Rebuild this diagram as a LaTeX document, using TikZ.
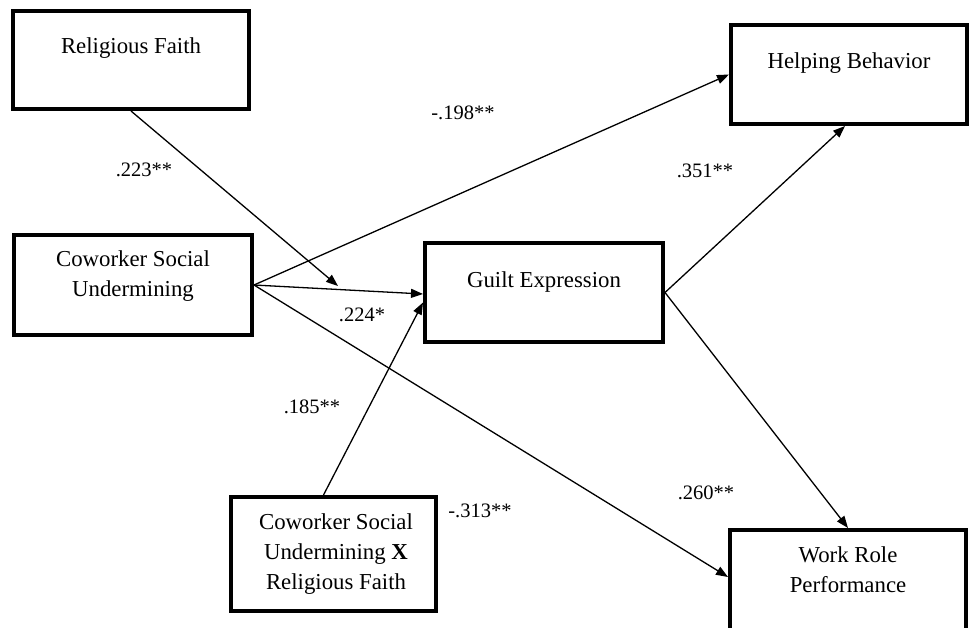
\documentclass[tikz,border=0pt]{standalone}
\usepackage{fontspec}
\setmainfont{Liberation Serif}
\usetikzlibrary{arrows.meta}
\begin{document}
\begin{tikzpicture}[x=1pt,y=-1pt,
  box/.style={draw, line width=4pt, rectangle, inner sep=0pt},
  lbl/.style={font=\fontsize{22.8}{30}\selectfont, align=center, inner sep=0pt},
  coef/.style={font=\fontsize{20.5}{24}\selectfont, inner sep=0pt},
  arr/.style={line width=1.3pt, -{Triangle[length=12pt,width=9pt]}}]
\useasboundingbox (0,0) rectangle (969,627);
\clip (0,0) rectangle (969,627);
\fill[white] (0,0) rectangle (969,627);

% boxes
\node[box, minimum width=236pt, minimum height=98pt] (RF) at (131,60) {};
\node[box, minimum width=236pt, minimum height=99pt] (HB) at (849,74.5) {};
\node[box, minimum width=238pt, minimum height=100pt] (CSU) at (133,285) {};
\node[box, minimum width=238pt, minimum height=99pt] (GE) at (544,292.5) {};
\node[box, minimum width=205pt, minimum height=114pt] (INT) at (333.5,554) {};
\node[box, minimum width=236pt, minimum height=104pt] (WRP) at (848,582) {};

% box texts
\node[lbl] (tRF) at (131,48) {Religious Faith};
\node[lbl] (tHB) at (849,63) {Helping Behavior};
\node[lbl] (tCSU) at (133,276) {Coworker Social\\Undermining};
\node[lbl] (tGE) at (544,282) {Guilt Expression};
\node[lbl] (tINT) at (336,554) {Coworker Social\\Undermining \textbf{X}\\Religious Faith};
\node[lbl] (tWRP) at (848,570) {Work Role\\Performance};

% moderation point
\coordinate (m) at (338,286);

% connectors
\draw[arr] (CSU.east) -- (HB.west);
\draw[arr] (CSU.east) -- ([yshift=-1.5pt]GE.west);
\draw[arr] (CSU.east) -- ([yshift=5pt]WRP.west);
\draw[arr] (RF.south) -- (m);
\draw[arr] ([xshift=-10pt]INT.north) -- ([yshift=-10pt]GE.west);
\draw[arr] (GE.east) -- ([xshift=-4pt]HB.south);
\draw[arr] (GE.east) -- (WRP.north);

% coefficients
\node[coef] (c1) at (144,170) {.223**};
\node[coef] (c2) at (463,113) {-.198**};
\node[coef] (c3) at (705,171) {.351**};
\node[coef] (c4) at (362,315) {.224*};
\node[coef] (c5) at (312,407) {.185**};
\node[coef] (c6) at (706,493) {.260**};
\node[coef] (c7) at (480,511) {-.313**};
\end{tikzpicture}
\end{document}
